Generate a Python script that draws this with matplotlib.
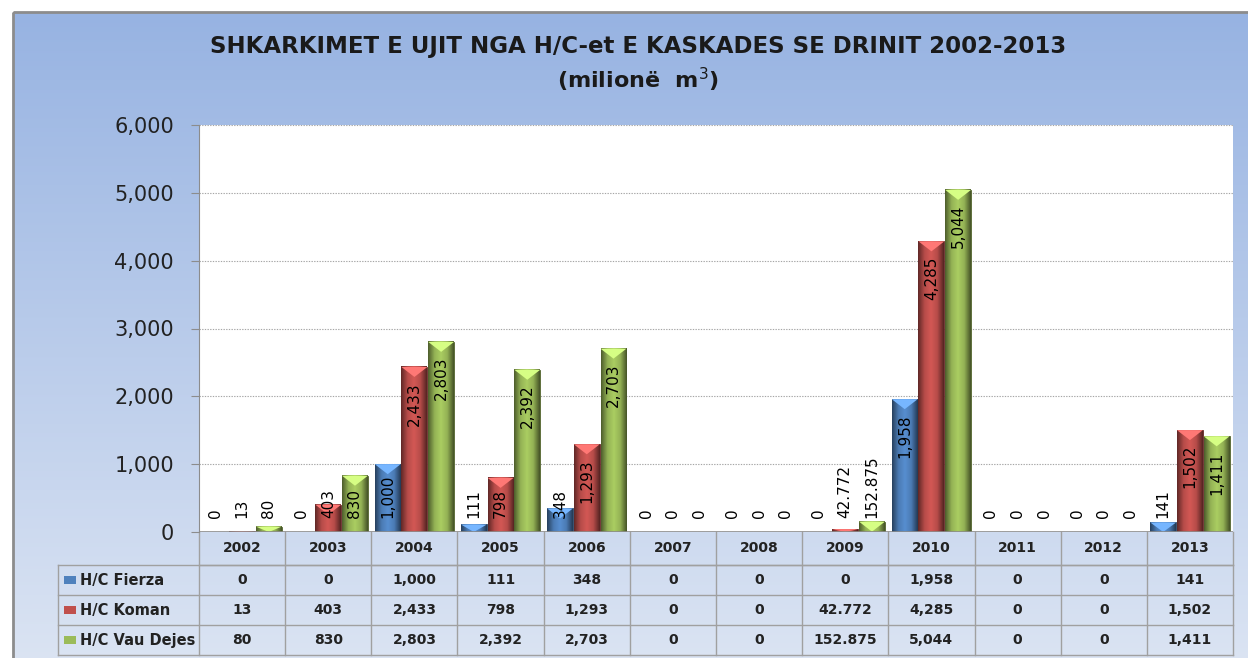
import numpy as np
import matplotlib.pyplot as plt
import matplotlib.colors as mcolors
from matplotlib.patches import Rectangle, Polygon
from matplotlib.transforms import blended_transform_factory

# Dados (milionë m3)
vitet = ['2002', '2003', '2004', '2005', '2006', '2007', '2008', '2009', '2010', '2011', '2012', '2013']
fierza = [0, 0, 1000, 111, 348, 0, 0, 0, 1958, 0, 0, 141]
koman = [13, 403, 2433, 798, 1293, 0, 0, 42.772, 4285, 0, 0, 1502]
vau_dejes = [80, 830, 2803, 2392, 2703, 0, 0, 152.875, 5044, 0, 0, 1411]
fierza_txt = ['0', '0', '1,000', '111', '348', '0', '0', '0', '1,958', '0', '0', '141']
koman_txt = ['13', '403', '2,433', '798', '1,293', '0', '0', '42.772', '4,285', '0', '0', '1,502']
vau_txt = ['80', '830', '2,803', '2,392', '2,703', '0', '0', '152.875', '5,044', '0', '0', '1,411']
emrat = ['H/C Fierza', 'H/C Koman', 'H/C Vau Dejes']
ngjyrat = ['#4f81bd', '#c0504d', '#9bbb59']
yticks = [0, 1000, 2000, 3000, 4000, 5000, 6000]

W, H = 1248, 658
fig = plt.figure(figsize=(W / 100, H / 100), dpi=100)
fig.patch.set_facecolor('white')

# Sfondi me gradient
bg = fig.add_axes([0, 0, 1, 1], zorder=-10)
bg.set_xlim(0, W)
bg.set_ylim(H, 0)
bg.axis('off')
grad = np.linspace(0, 1, 256).reshape(-1, 1)
cmap_bg = mcolors.LinearSegmentedColormap.from_list('bg', ['#97b3e2', '#dbe4f3'])
bg.imshow(grad, cmap=cmap_bg, extent=(13, W + 5, H + 5, 12), aspect='auto')
bg.add_patch(Rectangle((13, 12), W, H, fill=False, edgecolor='#8c8c8c', lw=2))

# Titulli
fig.text(638 / W, 1 - 47 / H, 'SHKARKIMET E UJIT NGA H/C-et E KASKADES SE DRINIT 2002-2013',
         ha='center', va='center', fontsize=16.5, fontweight='bold', color='#1a1a1a')
fig.text(638 / W, 1 - 80 / H, '(milionë  m$^3$)', ha='center', va='center', fontsize=16,
         fontweight='bold', color='#1a1a1a')

x0, x1, ytop, ybot = 199, 1233, 125, 532
ax = fig.add_axes([x0 / W, 1 - ybot / H, (x1 - x0) / W, (ybot - ytop) / H])
ax.set_facecolor('white')
ax.set_xlim(-0.5, len(vitet) - 0.5)
ax.set_ylim(0, 6000)
ax.set_yticks(yticks)
ax.set_yticklabels([f'{v:,}' for v in yticks], fontsize=15, color='#222222')
ax.set_xticks([])
ax.tick_params(axis='y', length=6, color='#8c8c8c', pad=12)
for s in ['top', 'right', 'bottom']:
    ax.spines[s].set_visible(False)
ax.spines['left'].set_color('#8c8c8c')
ax.grid(axis='y', linestyle=(0, (1.2, 1.2)), color='#a6a6a6', lw=0.8)
ax.set_axisbelow(True)
ax.axhline(0, color='#8c8c8c', lw=1.2, zorder=5)

x = np.arange(len(vitet))
w = 0.31
seritë = [fierza, koman, vau_dejes]
tekstet = [fierza_txt, koman_txt, vau_txt]

px_per_val = (ybot - ytop) / 6000.0
renderer = fig.canvas.get_renderer()

for i, (vals, txts, c) in enumerate(zip(seritë, tekstet, ngjyrat)):
    pos = x + (i - 1) * w
    bars = ax.bar(pos, vals, width=w * 0.97, color=c, edgecolor=mcolors.to_hex(np.array(mcolors.to_rgb(c)) * 0.5),
                  lw=0.6, zorder=3)
    base = np.array(mcolors.to_rgb(c))
    cm = mcolors.LinearSegmentedColormap.from_list(
        'b', [base * 0.5, base * 0.95, np.minimum(base * 1.1, 1), base * 0.95, base * 0.45])
    for b, v, t in zip(bars, vals, txts):
        bx, bw = b.get_x(), b.get_width()
        if v > 0:
            ax.imshow(np.linspace(0, 1, 64).reshape(1, -1), cmap=cm, extent=(bx, bx + bw, 0, v),
                      aspect='auto', zorder=3.5)
            tri_h = min(10 / px_per_val, v)
            light = np.minimum(base * 1.25 + 0.08, 1)
            ax.add_patch(Polygon([[bx, v], [bx + bw, v], [bx + bw / 2, v - tri_h]],
                                 closed=True, facecolor=light, edgecolor='none', zorder=3.6))
        # etiketa
        lab = ax.annotate(t, xy=(b.get_x() + bw / 2, v), xytext=(0, -15), textcoords='offset pixels',
                          rotation=90, ha='center', va='top', fontsize=11, color='black', zorder=6)
        L = lab.get_window_extent(renderer).height
        if v * px_per_val - 15 - L < 14:
            lab.xy = (b.get_x() + bw / 2, 0)
            lab.set_position((0, 14))
            lab.set_va('bottom')

ax.set_xlim(-0.5, len(vitet) - 0.5)
ax.set_ylim(0, 6000)

# Tabela e të dhënave
tr = blended_transform_factory(ax.transData, ax.transAxes)
ah = ybot - ytop
rows_px = [0, 33, 63, 93, 123]
rows = [-r / ah for r in rows_px]
lab_left = (58 - x0) / ((x1 - x0) / len(vitet)) - 0.5
lc = '#a0a0a0'
ax.plot([-0.5, len(vitet) - 0.5], [rows[1], rows[1]], transform=tr, color=lc, lw=1, clip_on=False)
for r in rows[1:]:
    ax.plot([lab_left, len(vitet) - 0.5], [r, r], transform=tr, color=lc, lw=1, clip_on=False)
ax.plot([lab_left, lab_left], [rows[1], rows[4]], transform=tr, color=lc, lw=1, clip_on=False)
for k in range(len(vitet) + 1):
    ax.plot([k - 0.5, k - 0.5], [rows[0], rows[4]], transform=tr, color=lc, lw=1, clip_on=False)

for k, v in enumerate(vitet):
    ax.text(k, (rows[0] + rows[1]) / 2, v, transform=tr, ha='center', va='center',
            fontsize=10, fontweight='bold', color='#222222')
for j, (txts, nm, c) in enumerate(zip(tekstet, emrat, ngjyrat)):
    yc = (rows[j + 1] + rows[j + 2]) / 2
    for k, t in enumerate(txts):
        ax.text(k, yc, t, transform=tr, ha='center', va='center', fontsize=10,
                fontweight='bold', color='#222222')
    ax.text(lab_left + 0.26, yc, nm, transform=tr, ha='left', va='center', fontsize=10.5,
            fontweight='bold', color='#222222')
    ax.add_patch(Rectangle((lab_left + 0.07, yc - 0.011), 0.14, 0.022, transform=tr,
                           facecolor=c, edgecolor='none', clip_on=False))

fig.savefig('out.png', dpi=100)
